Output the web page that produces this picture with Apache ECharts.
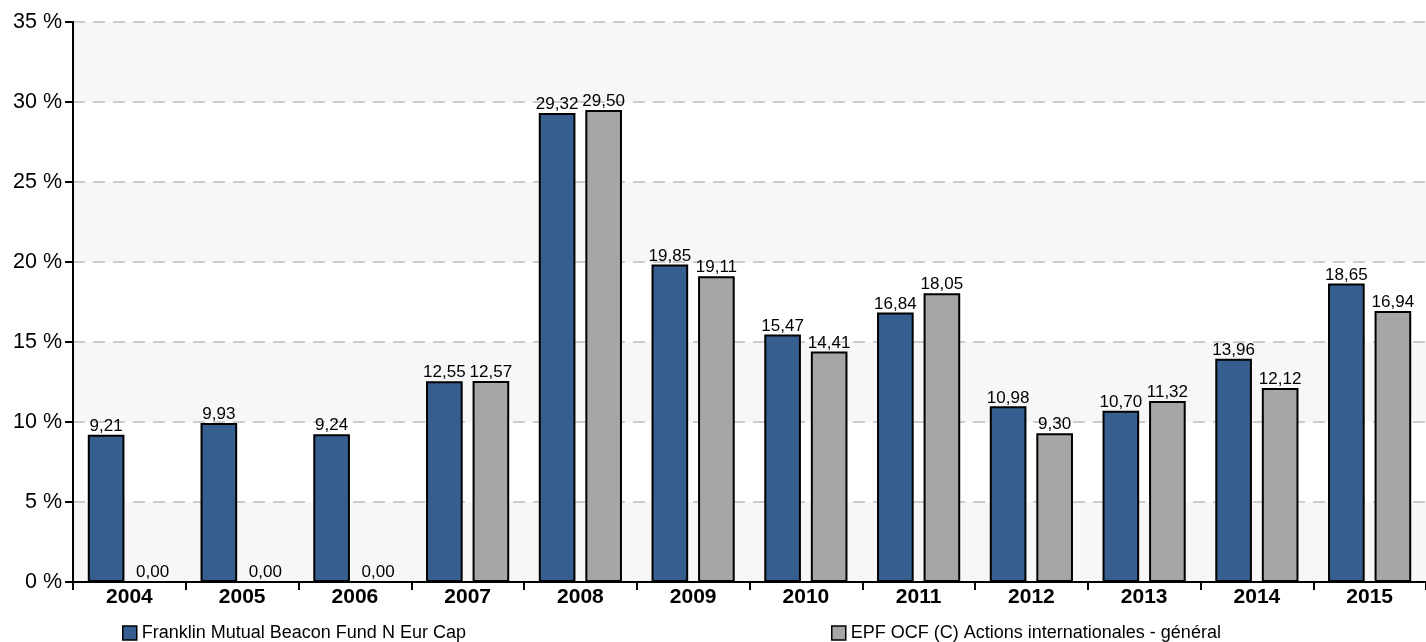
<!DOCTYPE html>
<html><head><meta charset="utf-8">
<script src="https://cdn.jsdelivr.net/npm/echarts@6/dist/echarts.min.js"></script>
<style>html,body{margin:0;padding:0;background:#fff}#c{width:1426px;height:642px}</style>
</head><body><div id="c"></div>
<script>
const categories = ['2004','2005','2006','2007','2008','2009','2010','2011','2012','2013','2014','2015'];
const fundName = 'Franklin Mutual Beacon Fund N Eur Cap';
const fundValues = [9.21, 9.93, 9.24, 12.55, 29.32, 19.85, 15.47, 16.84, 10.98, 10.70, 13.96, 18.65];
const peerName = 'EPF OCF (C) Actions internationales - général';
const peerValues = [0.00, 0.00, 0.00, 12.57, 29.50, 19.11, 14.41, 18.05, 9.30, 11.32, 12.12, 16.94];
const yTicks = [0, 5, 10, 15, 20, 25, 30, 35];

const chart = echarts.init(document.getElementById('c'));
const font = 'Liberation Sans, Arial, sans-serif';
const fmt = p => p.value.toFixed(2).replace('.', ',');
const labelCfg = {show: true, position: 'top', distance: 0, formatter: fmt, color: '#000', fontSize: 17, fontFamily: font};
const legendText = {fontSize: 18, fontFamily: font, color: '#000'};
chart.setOption({
  animation: false,
  grid: {left: 73, right: 0, top: 22, bottom: 60, containLabel: false},
  legend: [
    {data: [{name: fundName, icon: 'rect'}], left: 117, top: 619, itemWidth: 14, itemHeight: 14, itemGap: 8,
     itemStyle: {borderColor: '#000', borderWidth: 1.5}, textStyle: legendText},
    {data: [{name: peerName, icon: 'rect'}], left: 826, top: 619, itemWidth: 14, itemHeight: 14,
     itemStyle: {borderColor: '#000', borderWidth: 1.5}, textStyle: legendText}
  ],
  xAxis: {
    type: 'category', data: categories,
    axisLine: {lineStyle: {color: '#000', width: 2}},
    axisTick: {show: true, length: 8, lineStyle: {color: '#000', width: 2}},
    axisLabel: {fontSize: 21, fontWeight: 'bold', color: '#000', fontFamily: font, margin: 5}
  },
  yAxis: {
    type: 'value', min: yTicks[0], max: yTicks[yTicks.length - 1], interval: 5,
    axisLine: {show: true, lineStyle: {color: '#000', width: 2}},
    axisTick: {show: true, length: 8, lineStyle: {color: '#000', width: 2}},
    axisLabel: {fontSize: 21.5, color: '#000', fontFamily: font, margin: 11, formatter: v => v + ' %'},
    splitLine: {show: true, lineStyle: {color: '#cccccc', type: [12, 8], width: 2}},
    splitArea: {show: true, areaStyle: {color: ['#f7f7f7', '#ffffff']}}
  },
  series: [
    {name: fundName, type: 'bar', data: fundValues, barWidth: '32.5%', barGap: '27%',
     itemStyle: {color: '#365f8f', borderColor: '#000', borderWidth: 2}, label: labelCfg},
    {name: peerName, type: 'bar', data: peerValues, barWidth: '32.5%', barGap: '27%',
     itemStyle: {color: '#a6a6a6', borderColor: '#000', borderWidth: 2}, label: labelCfg}
  ]
});
</script></body></html>
